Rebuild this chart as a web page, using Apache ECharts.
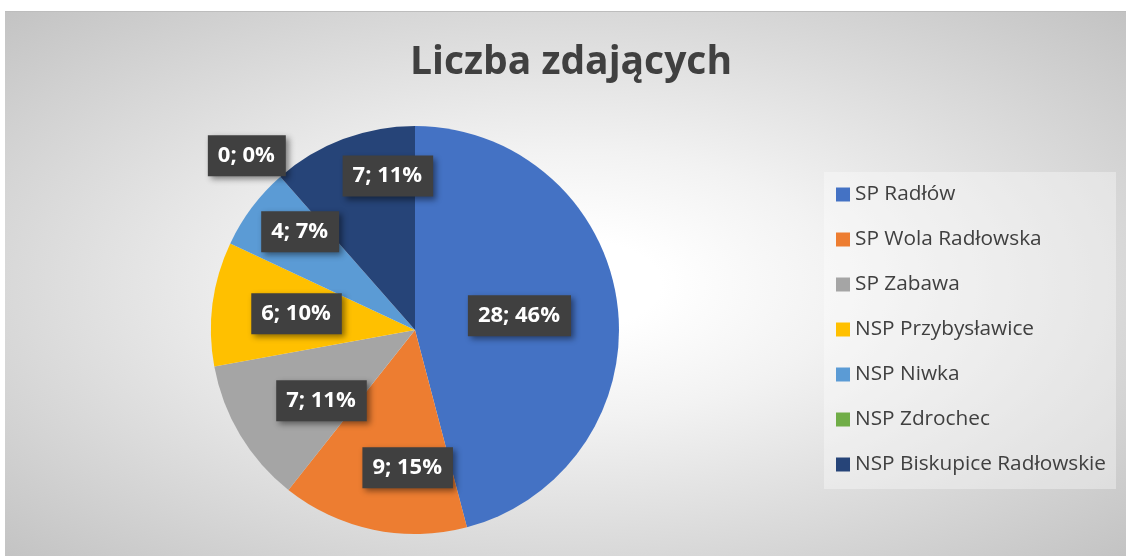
<!DOCTYPE html>
<html>
<head>
<meta charset="utf-8">
<script src="https://cdn.jsdelivr.net/npm/echarts@6/dist/echarts.min.js"></script>
<style>
  html, body { margin: 0; padding: 0; background: #fff; }
  #chart {
    position: absolute; left: 5px; top: 11px; width: 1121px; height: 545px;
    border-top: 1px solid #bdbdbd;
    background: radial-gradient(ellipse farthest-corner at 50% 50%, #ffffff 12%, #f2f2f2 35%, #c3c3c3 100%);
  }
</style>
</head>
<body>
<div id="chart"></div>
<script>
const myChart = echarts.init(document.getElementById('chart'));

// szkoły
const categories = [
  'SP Radłów',
  'SP Wola Radłowska',
  'SP Zabawa',
  'NSP Przybysławice',
  'NSP Niwka',
  'NSP Zdrochec',
  'NSP Biskupice Radłowskie'
];
// liczba zdających
const values = [28, 9, 7, 6, 4, 0, 7];
const colors = ['#4472C4', '#ED7D31', '#A5A5A5', '#FFC000', '#5B9BD5', '#70AD47', '#264478'];

const pieData = categories.map((name, i) => ({ name: name, value: values[i] }));

// przesunięcia etykiet (jak w Excelu)
const labelNudge = [[-28, 3], [20, 7], [21, 2], [14, 1], [-8, -18], [-80, -74], [20, -29]];

const center = [410, 318];
const radius = 204;

const option = {
  color: colors,
  title: {
    text: 'Liczba zdających',
    left: 400,
    top: 26,
    textStyle: {
      fontFamily: 'Open Sans',
      fontSize: 39,
      fontWeight: 'bold',
      color: '#404040'
    }
  },
  legend: {
    orient: 'vertical',
    left: 819,
    top: 160,
    padding: [12, 10, 14, 12],
    backgroundColor: 'rgba(255,255,255,0.35)',
    icon: 'rect',
    itemWidth: 14,
    itemHeight: 14,
    itemGap: 24,
    textStyle: {
      fontFamily: 'Open Sans',
      fontSize: 20.8,
      lineHeight: 21,
      color: '#404040'
    },
    data: categories
  },
  series: [
    {
      type: 'pie',
      center: center,
      radius: radius,
      startAngle: 90,
      clockwise: true,
      silent: true,
      label: { show: false },
      labelLine: { show: false },
      data: pieData
    },
    {
      // niewidoczna warstwa tylko dla etykiet
      type: 'pie',
      center: center,
      radius: [radius * 0.28, radius],
      startAngle: 90,
      clockwise: true,
      silent: true,
      percentPrecision: 0,
      avoidLabelOverlap: false,
      itemStyle: { color: 'rgba(0,0,0,0)' },
      labelLine: { show: false },
      label: {
        show: true,
        position: 'inside',
        formatter: '{c}; {d}%',
        fontFamily: 'Open Sans',
        fontSize: 22,
        fontWeight: 'bold',
        color: '#ffffff',
        backgroundColor: '#404040',
        padding: [10, 11, 9, 10],
        shadowColor: 'rgba(0,0,0,0.45)',
        shadowBlur: 6,
        shadowOffsetX: 3,
        shadowOffsetY: 3
      },
      labelLayout: function (params) {
        const n = labelNudge[params.dataIndex];
        return { dx: n[0], dy: n[1] };
      },
      data: pieData,
      legendHoverLink: false
    }
  ]
};
myChart.setOption(option);
</script>
</body>
</html>
